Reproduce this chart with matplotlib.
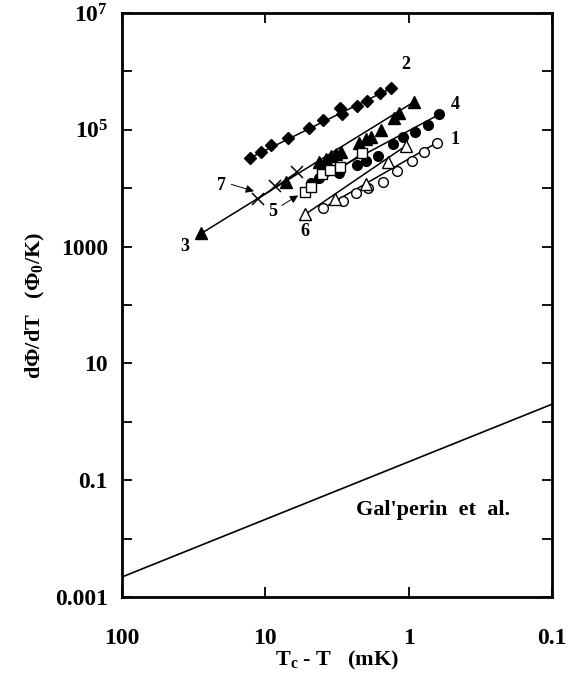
import numpy as np
import matplotlib
matplotlib.use("Agg")
import matplotlib.pyplot as plt

plt.rcParams['font.family'] = ['Liberation Serif', 'DejaVu Serif']
plt.rcParams['font.weight'] = 'bold'
plt.rcParams['mathtext.fontset'] = 'custom'
plt.rcParams['mathtext.rm'] = 'Liberation Serif:bold'
plt.rcParams['mathtext.it'] = 'Liberation Serif:bold'
plt.rcParams['mathtext.bf'] = 'Liberation Serif:bold'

# ---- data (Tc - T in mK, dPhi/dT in Phi0/K) ----
s1_x = [3.97, 2.85, 2.33, 1.91, 1.50, 1.21, 0.948, 0.778, 0.635]
s1_y = [4530, 6040, 8370, 10200, 12900, 19900, 29600, 42200, 60100]

s2_x = [12.7, 10.7, 9.08, 6.96, 4.92, 3.93, 3.01, 2.90, 2.29, 1.94, 1.58, 1.33]
s2_y = [33300, 42200, 54900, 71500, 107000, 147000, 233000, 187000, 256000,
        311000, 422000, 514000]

s3_x = [27.9, 7.14, 4.19, 3.76, 3.47, 3.21, 2.96, 2.21, 1.98, 1.83, 1.56, 1.26,
        1.16, 0.914]
s3_y = [1690, 12800, 28100, 32200, 35600, 38500, 42500, 59400, 69600, 76200,
        99300, 157000, 192000, 303000]

s4_x = [4.84, 4.19, 3.04, 2.28, 1.97, 1.63, 1.28, 1.10, 0.90, 0.731, 0.612]
s4_y = [12300, 15000, 18200, 24900, 29800, 36300, 58200, 76200, 91700, 123000,
        183000]

s5_x = [5.33, 4.79, 4.01, 3.54, 2.99, 2.10]
s5_y = [8710, 10600, 17500, 20300, 23500, 39300]

s6_x = [5.28, 3.29, 1.97, 1.39, 1.04]
s6_y = [3550, 6660, 11800, 28400, 53800]

s7_x = [11.3, 8.61, 6.05]
s7_y = [6530, 10900, 18600]

galperin_x = [100, 0.1]
galperin_y = [0.0022, 2.0]

x_ticks = [100, 10, 1, 0.1]
x_ticklabels = ["100", "10", "1", "0.1"]
y_ticks = [1e-3, 1e-2, 1e-1, 1, 10, 100, 1e3, 1e4, 1e5, 1e6, 1e7]
y_ticklabels = ["0.001", "", "0.1", "", "10", "", "1000", "", r"$10^{5}$", "", r"$10^{7}$"]

fig = plt.figure(figsize=(5.79, 6.85), dpi=100)
ax = fig.add_axes([0.2107, 0.1285, 0.7427, 0.8525])
ax.set_xscale('log')
ax.set_yscale('log')
ax.set_xlim(100, 0.1)
ax.set_ylim(1e-3, 1e7)

series = [
    (s1_x, s1_y, dict(marker='o', mfc='white', mec='black', ms=7, mew=1.0)),
    (s2_x, s2_y, dict(marker='D', mfc='black', mec='black', ms=6)),
    (s3_x, s3_y, dict(marker='^', mfc='black', mec='black', ms=8)),
    (s4_x, s4_y, dict(marker='o', mfc='black', mec='black', ms=7)),
    (s5_x, s5_y, dict(marker='s', mfc='white', mec='black', ms=7, mew=1.0)),
    (s6_x, s6_y, dict(marker='^', mfc='white', mec='black', ms=8, mew=1.0)),
    (s7_x, s7_y, dict(marker='x', color='black', ms=8, mew=1.1)),
]
for xs, ys, style in series:
    xs = np.array(xs); ys = np.array(ys)
    ax.plot([xs[0], xs[-1]], [ys[0], ys[-1]], color='black', lw=1.1, zorder=2)
    ax.plot(xs, ys, ls='none', zorder=3, **style)

ax.plot(galperin_x, galperin_y, color='black', lw=1.2)

lab_kw = dict(fontsize=13, fontweight='bold', ha='center', va='center')
ax.text(1.04, 1.29e6, "2", **lab_kw)
ax.text(0.474, 2.66e5, "4", **lab_kw)
ax.text(0.474, 6.88e4, "1", **lab_kw)
ax.text(20.2, 11300, "7", **lab_kw)
ax.text(8.94, 3960, "5", **lab_kw)
ax.text(5.33, 1800, "6", **lab_kw)
ax.text(36.4, 985, "3", **lab_kw)
ax.annotate('', xy=(11.5, 8600), xytext=(18.0, 12000),
            arrowprops=dict(arrowstyle='-|>', lw=0.7, color='black', mutation_scale=12))
ax.annotate('', xy=(5.68, 7960), xytext=(7.95, 4820),
            arrowprops=dict(arrowstyle='-|>', lw=0.7, color='black', mutation_scale=12))

ax.text(0.675, 0.031, "Gal'perin  et  al.", fontsize=16, fontweight='bold',
        ha='center', va='center')

ax.set_xticks(x_ticks)
ax.set_xticklabels(x_ticklabels)
ax.set_yticks(y_ticks)
ax.set_yticklabels(y_ticklabels)
ax.minorticks_off()
ax.tick_params(axis='both', which='major', direction='in', length=7, width=1.3,
               top=True, right=True, labelsize=17)
ax.tick_params(axis='x', pad=22)
ax.tick_params(axis='y', pad=10)
for sp in ax.spines.values():
    sp.set_linewidth(2.0)

ax.set_xlabel(r"T$_{\rm c}$ - T   (mK)", fontsize=16, fontweight='bold', labelpad=0)
ax.set_ylabel(r"d$\Phi$/dT   ($\Phi_{0}$/K)", fontsize=16, fontweight='bold', labelpad=6)

fig.savefig("out.png", dpi=100)
